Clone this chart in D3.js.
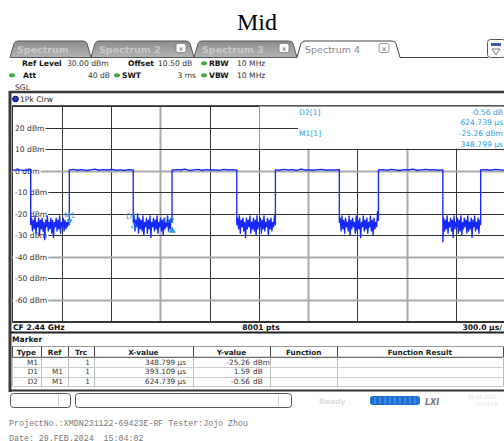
<!DOCTYPE html>
<html><head><meta charset="utf-8">
<script src="https://cdn.jsdelivr.net/npm/d3@7/dist/d3.min.js"></script>
<style>
body{margin:0;background:#fff}
svg{display:block}
text{font-family:"DejaVu Sans",Verdana,sans-serif}
</style>
</head><body>
<svg id="c" width="504" height="441"></svg>
<script>
// ---------------- DATA ----------------
const chartTitle = "Mid";
const tabNames = ["Spectrum", "Spectrum 2", "Spectrum 3", "Spectrum 4"];
const yTickValues = [20, 10, 0, -10, -20, -30, -40, -50, -60];
const yDomain = [-70, 30];          // dBm
const xDomain = [0, 3000];          // µs (300 µs/div)
const xGridStep = 300;
const yGridStep = 10;
const fallTimes = [112, 736, 1366, 1990, 2620];   // µs, burst end
const riseTimes = [347, 972, 1601, 2228, 2850];   // µs, burst start
const highLevels = [
  [0.2, 0.4, 0.1, 0.5],
  [0.3, 0.6, 0.2, 0.5, 0.1, 0.4, 0.7, 0.2, 0.5, 0.3, 0.6, 0.2, 0.4, 0.1, 0.5, 0.3],
  [0.2, 0.5, 0.3, 0.7, 0.1, 0.4, 0.6, 0.2, 0.5, 0.3, 0.4, 0.1, 0.6, 0.3, 0.5, 0.2],
  [0.4, 0.2, 0.6, 0.3, 0.5, 0.1, 0.7, 0.3, 0.4, 0.2, 0.5, 0.6, 0.2, 0.4, 0.3, 0.5],
  [0.3, 0.5, 0.2, 0.6, 0.4, 0.1, 0.5, 0.3, 0.7, 0.2, 0.4, 0.6, 0.3, 0.5, 0.2, 0.4],
  [0.3, 0.5, 0.2, 0.6, 0.4, 0.2]
];
const lowNoise = [
  [-25,-22,-28,-23,-27,-21,-29,-24,-26,-22,-30,-23,-27,-22,-28,-24,-32,-23,-26,-21,-28,-24,-27,-22,-29,-23,-31,-24,-26,-22,-28,-23,-27,-21,-29,-24,-26,-22,-28,-23,-27,-24,-26,-23,-25],
  [-24,-21,-28,-23,-26,-20,-29,-22,-27,-23,-28,-21,-30,-24,-26,-22,-29,-23,-27,-21,-31,-24,-26,-22,-28,-23,-27,-21,-29,-24,-26,-22,-28,-23,-30,-22,-27,-24,-26,-21,-28,-23,-27,-22,-24],
  [-25,-22,-27,-21,-29,-23,-26,-22,-28,-24,-31,-22,-27,-23,-26,-21,-29,-24,-27,-22,-28,-23,-30,-21,-27,-24,-26,-22,-29,-23,-27,-21,-28,-24,-26,-22,-30,-23,-27,-22,-28,-24,-26,-21,-25],
  [-24,-22,-28,-21,-27,-23,-29,-22,-26,-24,-28,-21,-30,-23,-27,-22,-26,-24,-29,-21,-28,-23,-27,-22,-31,-24,-26,-21,-28,-23,-27,-22,-29,-24,-26,-21,-28,-23,-30,-22,-27,-24,-26,-19,-23],
  [-33,-22,-28,-23,-27,-21,-29,-24,-26,-22,-28,-23,-31,-21,-27,-24,-26,-22,-29,-23,-28,-21,-30,-24,-27,-22,-26,-23,-29,-21,-28,-24,-27,-22,-31,-23,-26,-21,-28,-24,-27,-22,-29,-23,-25]
];
const markerType = ["M1", "D1", "D2"];
const markerRef = ["", "M1", "M1"];
const markerTrc = [1, 1, 1];
const markerX = [348.799, 393.109, 624.739];   // µs
const markerY = [-25.26, 1.59, -0.56];
const markerUnit = ["dBm", "dB", "dB"];
const tableHeaders = ["Type", "Ref", "Trc", "X-value", "Y-value", "Function", "Function Result"];
const setupRow1 = [["Ref Level", "30.00 dBm"], ["Offset", "10.50 dB"], ["RBW", "10 MHz"]];
const setupRow2 = [["Att", "40 dB"], ["SWT", "3 ms"], ["VBW", "10 MHz"]];
const centerFreq = "CF 2.44 GHz";
const sweepPoints = "8001 pts";
const timePerDiv = "300.0 µs/";
const traceLabel = "1Pk Clrw";
const footer1 = "ProjectNo.:XMDN231122-69423E-RF Tester:Jojo Zhou";
const footer2 = "Date: 29.FEB.2024\u00a0 15:04:02";

// ---------------- LAYOUT ----------------
const svg = d3.select("#c");
const plot = {l: 12.3, r: 505.3, t: 106, b: 321.6};
const x = d3.scaleLinear().domain(xDomain).range([plot.l, plot.r]);
const y = d3.scaleLinear().domain(yDomain).range([plot.b, plot.t]);
const dark = "#333";
const mblue = "#2a9de2";

// title
svg.append("text").attr("x", 257).attr("y", 30).attr("text-anchor", "middle")
  .style("font-family", "'Liberation Serif','Times New Roman',serif").style("font-size", "24px").text(chartTitle);

// tabs
const defs = svg.append("defs");
const g1 = defs.append("linearGradient").attr("id", "tabg").attr("x1", 0).attr("y1", 0).attr("x2", 0).attr("y2", 1);
g1.append("stop").attr("offset", "0").attr("stop-color", "#8c8c8c");
g1.append("stop").attr("offset", "1").attr("stop-color", "#b4b4b4");
const tabX = [[10, 91], [91, 194], [194, 297], [297, 400]];
tabNames.forEach((n, i) => {
  const [a, b] = tabX[i];
  const active = i === tabNames.length - 1;
  svg.append("path")
    .attr("d", `M${a},57.5 L${a + 4},43.5 Q${a + 5},41 ${a + 8},41 L${b - 8},41 Q${b - 5},41 ${b - 4},43.5 L${b},57.5` + (active ? "" : " Z"))
    .attr("fill", active ? "#fff" : "url(#tabg)").attr("stroke", active ? "#444" : "#555").attr("stroke-width", 1);
  svg.append("text").attr("x", a + (i === 0 ? 7 : 8)).attr("y", 52.5)
    .style("font-size", "9.5px").style("font-weight", active ? "normal" : "bold")
    .attr("fill", active ? "#888" : "#c9c9c9").text(n);
  if (i > 0) {
    const cx = b - (active ? 16 : 13);
    svg.append("rect").attr("x", cx - 5).attr("y", 43.5).attr("width", 10).attr("height", 9).attr("rx", 2)
      .attr("fill", "#fff").attr("stroke", "#777").attr("stroke-width", 0.8);
    svg.append("text").attr("x", cx).attr("y", 50.8).attr("text-anchor", "middle").style("font-size", "7px").attr("fill", "#666").text("x");
  }
});
svg.append("line").attr("x1", 400).attr("x2", 488).attr("y1", 57.5).attr("y2", 57.5).attr("stroke", "#444");
// menu icon
svg.append("rect").attr("x", 487.5).attr("y", 39.5).attr("width", 18).attr("height", 18).attr("rx", 3).attr("fill", "#fff").attr("stroke", "#555");
svg.append("rect").attr("x", 491).attr("y", 43).attr("width", 10).attr("height", 3).attr("fill", "#3a5fb0");
svg.append("path").attr("d", "M492,49 L500,49 L496,55 Z").attr("fill", "none").attr("stroke", "#555").attr("stroke-width", 0.8);

// setup info
function infoRow(items, yy, labelX, valX, valAnchor, dots) {
  items.forEach((it, i) => {
    svg.append("text").attr("x", labelX[i]).attr("y", yy).style("font-size", "7.6px").style("font-weight", "bold").attr("fill", "#111").text(it[0]);
    svg.append("text").attr("x", valX[i]).attr("y", yy).attr("text-anchor", valAnchor[i]).style("font-size", "7.6px").attr("fill", "#333").text(it[1]);
  });
  dots.forEach(cx => svg.append("ellipse").attr("cx", cx).attr("cy", yy - 2.7).attr("rx", 3).attr("ry", 2).attr("fill", "#43a843"));
}
infoRow(setupRow1, 66, [22, 128, 209], [67, 158, 237], ["start", "start", "start"], [204]);
infoRow(setupRow2, 78, [23, 122, 209], [110, 196, 237], ["end", "end", "start"], [12, 117, 204]);
svg.append("text").attr("x", 15).attr("y", 89.5).style("font-size", "7.6px").attr("fill", "#333").text("SGL");

// frame
svg.append("line").attr("x1", 9).attr("x2", 504).attr("y1", 92).attr("y2", 92).attr("stroke", "#3a3a3a").attr("stroke-width", 2.5);
svg.append("line").attr("x1", 10).attr("x2", 10).attr("y1", 91).attr("y2", 392).attr("stroke", "#3a3a3a").attr("stroke-width", 3);
svg.append("circle").attr("cx", 15.5).attr("cy", 99).attr("r", 2.8).attr("fill", "#1a3ce0").attr("stroke", "#002");
svg.append("text").attr("x", 20).attr("y", 102).style("font-size", "7.6px").attr("fill", "#222").text(traceLabel);
svg.append("line").attr("x1", 12).attr("x2", 504).attr("y1", 105.5).attr("y2", 105.5).attr("stroke", "#555");

// grid
const grayV = [3, 6, 8];
const grayH = [0, -40, -60];
d3.range(xDomain[0], xDomain[1] + 1, xGridStep).forEach((t, i) => {
  const g = grayV.includes(i);
  svg.append("line").attr("x1", Math.round(x(t)) + 0.5).attr("x2", Math.round(x(t)) + 0.5).attr("y1", plot.t).attr("y2", plot.b)
    .attr("stroke", g ? "#a9a9a9" : dark).attr("stroke-width", g ? 2 : 1);
});
d3.range(yDomain[0], yDomain[1] + 1, yGridStep).forEach(v => {
  const g = grayH.includes(v);
  svg.append("line").attr("x1", plot.l).attr("x2", 504).attr("y1", Math.round(y(v)) + 0.5).attr("y2", Math.round(y(v)) + 0.5)
    .attr("stroke", g ? "#a9a9a9" : dark).attr("stroke-width", g ? 2 : 1);
});
// y labels
yTickValues.forEach(v => {
  const t = svg.append("text").attr("x", 15).attr("y", Math.round(y(v)) + 3.3).style("font-size", "7.6px").attr("fill", "#333").text(`${v} dBm`);
  const w = t.node().getComputedTextLength();
  svg.insert("rect", () => t.node()).attr("x", 13).attr("y", Math.round(y(v)) - 3.5).attr("width", w + 3).attr("height", 8).attr("fill", "#fff");
});

// marker info box
svg.append("rect").attr("x", 259.5).attr("y", 106.5).attr("width", 246).attr("height", 42).attr("fill", "#fff");
svg.append("line").attr("x1", 259).attr("x2", 298).attr("y1", Math.round(y(20)) + 0.5).attr("y2", Math.round(y(20)) + 0.5).attr("stroke", dark);
const fmtY = (v, u) => `${v.toFixed(2)} ${u}`;
const fmtX = v => `${v.toFixed(3)} µs`;
const info = [
  [`${markerType[2]}[${markerTrc[2]}]`, fmtY(markerY[2], markerUnit[2]), 114.5],
  ["", fmtX(markerX[2]), 124.5],
  [`${markerType[0]}[${markerTrc[0]}]`, fmtY(markerY[0], markerUnit[0]), 136],
  ["", fmtX(markerX[0]), 147]
];
info.forEach(r => {
  if (r[0]) svg.append("text").attr("x", 299).attr("y", r[2]).style("font-size", "7.6px").attr("fill", mblue).text(r[0]);
  svg.append("text").attr("x", 503).attr("y", r[2]).attr("text-anchor", "end").style("font-size", "7.6px").attr("fill", mblue).text(r[1]);
});

// trace
const pts = [];
for (let i = 0; i <= fallTimes.length; i++) {
  const s = i === 0 ? xDomain[0] : riseTimes[i - 1];
  const e = i === fallTimes.length ? xDomain[1] : fallTimes[i];
  const hv = highLevels[i];
  hv.forEach((v, k) => pts.push([s + (e - s) * k / (hv.length - 1), v]));
  if (i < fallTimes.length) {
    const ln = lowNoise[i];
    const a = fallTimes[i], b = riseTimes[i];
    ln.forEach((v, k) => pts.push([a + (b - a) * k / (ln.length - 1), v]));
  }
}
svg.append("clipPath").attr("id", "pc").append("rect").attr("x", plot.l).attr("y", plot.t).attr("width", 504 - plot.l).attr("height", plot.b - plot.t);
svg.append("path").attr("clip-path", "url(#pc)").attr("d", d3.line().x(d => x(d[0])).y(d => y(d[1]))(pts))
  .attr("fill", "none").attr("stroke", "#1428ff").attr("stroke-width", 1.35).attr("stroke-linejoin", "round");

// markers on trace
const mPos = [
  [markerX[0], markerY[0]],
  [markerX[0] + markerX[1], markerY[0] + markerY[1]],
  [markerX[0] + markerX[2], markerY[0] + markerY[2]]
];
mPos.forEach((p, i) => {
  const px = x(p[0]), py = y(p[1]);
  if (i === 0) {
    svg.append("path").attr("d", `M${px - 3},${py - 6} L${px + 3},${py - 6} L${px},${py - 1} Z`).attr("fill", mblue);
    svg.append("text").attr("x", px).attr("y", py - 7.5).attr("text-anchor", "middle").style("font-size", "7.6px").attr("fill", mblue).text(markerType[i]);
  } else {
    svg.append("path").attr("d", `M${px - 3},${py + 6} L${px + 3},${py + 6} L${px},${py + 1} Z`).attr("fill", i === 1 ? "none" : mblue).attr("stroke", mblue).attr("stroke-width", 0.8);
    svg.append("text").attr("x", px - 3).attr("y", py - 3).attr("text-anchor", "middle").style("font-size", "7.6px").attr("fill", mblue).text(markerType[i]);
  }
});

// bottom bar of diagram
svg.append("line").attr("x1", 12).attr("x2", 504).attr("y1", 321.5).attr("y2", 321.5).attr("stroke", dark);
svg.append("text").attr("x", 13).attr("y", 330).style("font-size", "7.6px").style("font-weight", "bold").attr("fill", "#111").text(centerFreq);
svg.append("text").attr("x", 261).attr("y", 330).attr("text-anchor", "middle").style("font-size", "7.6px").style("font-weight", "bold").attr("fill", "#111").text(sweepPoints);
svg.append("text").attr("x", 502).attr("y", 330).attr("text-anchor", "end").style("font-size", "7.6px").style("font-weight", "bold").attr("fill", "#111").text(timePerDiv);
svg.append("line").attr("x1", 10).attr("x2", 504).attr("y1", 332.5).attr("y2", 332.5).attr("stroke", "#222").attr("stroke-width", 2);

// marker table
svg.append("text").attr("x", 12).attr("y", 342.3).style("font-size", "7.6px").style("font-weight", "bold").attr("fill", "#111").text("Marker");
const colX = [11.7, 41, 68.3, 94, 192.7, 270.3, 337, 502.7];
const hTop = 346.5, hBot = 357.3, rowH = 9.7;
svg.append("line").attr("x1", colX[0]).attr("x2", colX[7]).attr("y1", hTop).attr("y2", hTop).attr("stroke", "#999");
svg.append("line").attr("x1", colX[0]).attr("x2", colX[7]).attr("y1", hBot).attr("y2", hBot).attr("stroke", "#444");
colX.forEach((cx, i) => {
  svg.append("line").attr("x1", Math.round(cx) + 0.5).attr("x2", Math.round(cx) + 0.5).attr("y1", hTop).attr("y2", hBot).attr("stroke", "#444");
  svg.append("line").attr("x1", Math.round(cx) + 0.5).attr("x2", Math.round(cx) + 0.5).attr("y1", hBot).attr("y2", hBot + rowH * 3).attr("stroke", "#bbb");
});
tableHeaders.forEach((h, i) => {
  svg.append("text").attr("x", (colX[i] + colX[i + 1]) / 2).attr("y", 355).attr("text-anchor", "middle")
    .style("font-size", "7.3px").style("font-weight", "bold").attr("fill", "#222").text(h);
});
markerType.forEach((m, r) => {
  const by = hBot + rowH * (r + 1);
  svg.append("line").attr("x1", colX[0]).attr("x2", colX[7]).attr("y1", Math.round(by) + 0.5).attr("y2", Math.round(by) + 0.5).attr("stroke", "#ccc");
  const ty = by - 2.3;
  const cell = (xx, txt, anchor) => svg.append("text").attr("x", xx).attr("y", ty).attr("text-anchor", anchor || "end").style("font-size", "7.3px").attr("fill", "#333").text(txt);
  cell(38, m);
  cell(63, markerRef[r]);
  cell(90, markerTrc[r]);
  cell(186, fmtX(markerX[r]));
  cell(250, markerY[r].toFixed(2));
  cell(253, markerUnit[r], "start");
});
svg.append("line").attr("x1", 10).attr("x2", 504).attr("y1", 390.5).attr("y2", 390.5).attr("stroke", "#333").attr("stroke-width", 2);

// status bar
svg.append("rect").attr("x", 10.5).attr("y", 393.5).attr("width", 60).attr("height", 14).attr("rx", 3).attr("fill", "#fff").attr("stroke", "#555");
svg.append("line").attr("x1", 58.5).attr("x2", 58.5).attr("y1", 395).attr("y2", 406).attr("stroke", "#ccc");
svg.append("rect").attr("x", 75.5).attr("y", 393.5).attr("width", 216).attr("height", 14).attr("rx", 3).attr("fill", "#fff").attr("stroke", "#555");
svg.append("line").attr("x1", 278.5).attr("x2", 278.5).attr("y1", 395).attr("y2", 406).attr("stroke", "#ccc");
svg.append("text").attr("x", 319).attr("y", 403.5).style("font-size", "7.6px").style("font-weight", "bold").attr("fill", "#dedede").text("Ready");
svg.append("rect").attr("x", 370).attr("y", 396).attr("width", 50).attr("height", 9).attr("rx", 3).attr("fill", "#1b6fd4");
d3.range(375, 420, 5).forEach(xx => svg.append("line").attr("x1", xx).attr("x2", xx).attr("y1", 397).attr("y2", 404).attr("stroke", "#7ab0ee").attr("stroke-width", 0.8));
svg.append("text").attr("x", 425).attr("y", 404.5).style("font-size", "8px").style("font-weight", "bold").style("font-style", "italic").attr("fill", "#777").text("LXI");
svg.append("text").attr("x", 468).attr("y", 399).style("font-size", "5px").attr("fill", "#ddd").text("29.02.2024");
svg.append("text").attr("x", 475).attr("y", 405.5).style("font-size", "5px").attr("fill", "#ddd").text("15:04:02");

// footer
svg.append("text").attr("x", 9).attr("y", 426).style("font-family", "'Liberation Mono','Courier New',monospace").style("font-size", "8.3px").attr("fill", "#777").text(footer1);
svg.append("text").attr("x", 9).attr("y", 440.5).style("font-family", "'Liberation Mono','Courier New',monospace").style("font-size", "8.3px").attr("fill", "#777").text(footer2);
</script>
</body></html>
